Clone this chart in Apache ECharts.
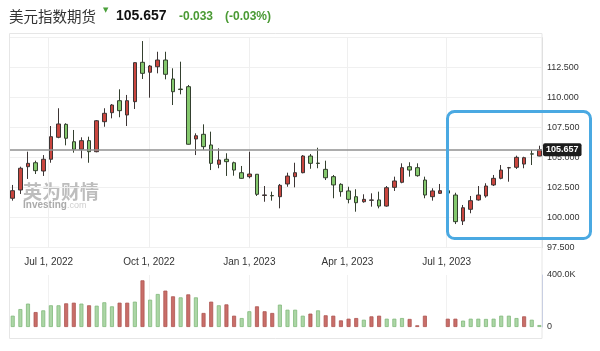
<!DOCTYPE html>
<html><head><meta charset="utf-8">
<script src="https://cdn.jsdelivr.net/npm/echarts/dist/echarts.min.js"></script>
<style>html,body{margin:0;padding:0;background:#fff}#c{width:600px;height:351px}</style>
</head><body><div id="c"></div>
<script>
// ---------- data ----------
const titleName = '美元指数期货';
const lastPrice = '105.657';
const changeAbs = '-0.033';
const changePct = '(-0.03%)';

const weeks = ['2022-05-29','2022-06-05','2022-06-12','2022-06-19','2022-06-26','2022-07-03','2022-07-10','2022-07-17','2022-07-24','2022-07-31',
'2022-08-07','2022-08-14','2022-08-21','2022-08-28','2022-09-04','2022-09-11','2022-09-18','2022-09-25','2022-10-02','2022-10-09',
'2022-10-16','2022-10-23','2022-10-30','2022-11-06','2022-11-13','2022-11-20','2022-11-27','2022-12-04','2022-12-11','2022-12-18',
'2022-12-25','2023-01-01','2023-01-08','2023-01-15','2023-01-22','2023-01-29','2023-02-05','2023-02-12','2023-02-19','2023-02-26',
'2023-03-05','2023-03-12','2023-03-19','2023-03-26','2023-04-02','2023-04-09','2023-04-16','2023-04-23','2023-04-30','2023-05-07',
'2023-05-14','2023-05-21','2023-05-28','2023-06-04','2023-06-11','2023-06-18','2023-06-25','2023-07-02','2023-07-09','2023-07-16',
'2023-07-23','2023-07-30','2023-08-06','2023-08-13','2023-08-20','2023-08-27','2023-09-03','2023-09-10','2023-09-17','2023-09-24'];

const open = [101.62,102.31,104.25,104.58,103.89,104.87,106.7,107.78,106.33,105.7,
106.42,105.5,108.0,108.75,109.75,108.56,109.67,112.95,112.12,112.58,
113.14,111.56,110.72,110.92,106.56,106.95,106.06,104.45,104.87,104.58,
103.75,103.42,103.62,101.85,101.85,101.75,102.81,103.42,103.75,105.14,
104.55,104.03,103.42,102.78,102.23,101.75,101.33,101.45,101.48,100.97,
102.53,102.95,104.25,104.17,103.14,101.75,102.03,102.25,101.89,99.72,
100.7,101.48,101.81,102.73,103.28,104.15,104.2,104.47,105.32,105.14];

const close = [102.25,104.12,104.53,103.92,104.87,106.75,107.81,106.62,105.7,106.42,
105.5,108.08,108.7,109.39,108.92,109.75,112.92,112.03,112.64,113.14,
111.95,110.5,110.68,106.12,106.83,105.92,104.53,104.81,104.67,103.97,
103.28,103.64,101.95,101.9,101.82,102.7,103.47,103.75,105.14,104.53,
104.52,103.33,102.73,102.17,101.53,101.25,101.53,101.48,100.97,102.5,
103.06,104.17,103.97,103.5,101.89,102.23,102.25,102.05,99.67,100.83,
101.42,101.89,102.64,103.28,103.97,104.17,105.03,105.0,105.3,105.657];

const low = [101.42,101.98,103.23,103.64,103.48,104.58,106.62,106.03,105.42,104.95,
104.58,105.45,107.58,108.28,108.37,107.64,109.06,111.56,110.0,112.03,
111.53,109.39,110.28,106.1,105.22,105.64,103.97,104.12,103.48,103.5,
103.25,103.28,101.81,101.33,101.42,100.78,102.58,102.53,103.7,104.08,
104.12,103.14,101.62,101.75,101.2,100.5,101.25,100.92,100.78,100.92,
102.23,102.87,103.42,103.42,101.62,101.42,101.98,101.98,99.47,99.39,
100.37,101.42,101.67,102.64,103.2,103.0,104.06,104.12,104.39,105.12];

const high = [102.73,104.25,105.5,104.75,105.22,107.64,109.12,107.87,107.31,106.7,
106.75,108.14,109.12,109.47,110.7,110.23,112.95,114.72,112.72,113.83,
113.83,112.45,113.0,111.06,107.03,107.78,107.17,105.78,105.37,104.67,
104.31,105.5,103.64,102.64,102.17,102.81,103.75,104.58,105.22,105.31,
105.83,104.75,103.56,102.87,102.58,102.37,101.95,102.03,102.17,102.64,
103.42,104.53,104.62,104.53,103.42,102.45,102.81,102.64,102.08,101.06,
101.81,102.64,102.87,103.56,104.39,104.23,105.17,105.08,105.64,106.0];

const volume = [87000,138000,180000,115000,128000,167000,167000,182000,187000,180000,
167000,164000,190000,159000,187000,187000,195000,359000,210000,254000,
280000,236000,228000,251000,228000,108000,195000,167000,174000,87000,
69000,121000,159000,121000,108000,172000,133000,133000,87000,103000,
128000,90000,87000,51000,64000,69000,56000,82000,87000,64000,
64000,69000,62000,13000,87000,null,null,64000,64000,49000,
64000,64000,62000,64000,87000,87000,69000,82000,56000,15000];

const volumeUp = [0,0,0,1,0,0,0,1,1,0,
1,0,0,0,1,1,0,1,0,0,
1,1,0,1,0,1,1,0,1,1,
0,0,1,1,1,0,0,0,0,1,
0,1,1,1,1,1,0,1,1,0,
0,0,1,1,1,0,0,1,1,0,
0,0,0,0,0,0,0,1,0,0];

const dateTicks = ['2022-07-01','2022-10-01','2023-01-01','2023-04-01','2023-07-01'];
const xRange = ['2022-05-26T12:00','2023-09-26T09:36'];
const priceRange = [97.5, 115];
const priceStep = 2.5;
const volumeRange = [0, 400000];

// ---------- helpers ----------
const MONTHS = ['Jan','Feb','Mar','Apr','May','Jun','Jul','Aug','Sep','Oct','Nov','Dec'];
function ts(s) {
  const [d, t] = s.split('T');
  const [y, m, dd] = d.split('-').map(Number);
  let hh = 0, mm = 0;
  if (t) { [hh, mm] = t.split(':').map(Number); }
  return Date.UTC(y, m - 1, dd, hh, mm);
}
function fmtDate(v) {
  const d = new Date(v);
  return MONTHS[d.getUTCMonth()] + ' ' + d.getUTCDate() + ', ' + d.getUTCFullYear();
}

const tickTs = dateTicks.map(ts);
const lastClose = close[close.length - 1];
const candleData = weeks.map((w, i) => [ts(w), open[i], close[i], low[i], high[i]]);
const volData = [];
weeks.forEach((w, i) => {
  if (volume[i] == null) return;
  const up = volumeUp[i] === 1;
  volData.push({
    value: [ts(w), volume[i]],
    itemStyle: up ? { color: '#c96e69', borderColor: '#ad5652', borderWidth: 0.8 }
                  : { color: '#acd6a6', borderColor: '#82b97b', borderWidth: 0.8 }
  });
});

const FONT = '"Liberation Sans", Arial, sans-serif';
const chart = echarts.init(document.getElementById('c'), null, { renderer: 'canvas' });

chart.setOption({
  animation: false,
  backgroundColor: '#fff',
  textStyle: { fontFamily: FONT },
  grid: [
    { left: 10, right: 58, top: 37.7, height: 210, outerBoundsMode: 'none', containLabel: false },
    { left: 10, right: 58, top: 275, height: 52, outerBoundsMode: 'none', containLabel: false }
  ],
  xAxis: [
    {
      type: 'value', gridIndex: 0, min: ts(xRange[0]), max: ts(xRange[1]), scale: true,
      axisLine: { show: false },
      axisTick: { show: false, customValues: tickTs },
      axisLabel: { customValues: tickTs, formatter: fmtDate, fontSize: 10, color: '#333', margin: 10, fontFamily: FONT },
      splitLine: { show: true, lineStyle: { color: '#efefef', width: 1 } }
    },
    {
      type: 'value', gridIndex: 1, min: ts(xRange[0]), max: ts(xRange[1]), scale: true,
      axisLine: { show: false },
      axisTick: { show: false, customValues: tickTs },
      axisLabel: { show: false, customValues: tickTs },
      splitLine: { show: true, lineStyle: { color: '#f1f1f1', width: 1 } }
    }
  ],
  yAxis: [
    {
      type: 'value', gridIndex: 0, position: 'right',
      min: priceRange[0], max: priceRange[1], interval: priceStep,
      axisLine: { show: true, lineStyle: { color: '#e0e0e0' } },
      axisTick: { show: false },
      axisLabel: { formatter: v => (v >= priceRange[1] ? '' : v.toFixed(3)), fontSize: 9, color: '#333', margin: 5, fontFamily: FONT },
      splitLine: { show: true, lineStyle: { color: '#f0f0f0' } }
    },
    {
      type: 'value', gridIndex: 1, position: 'right',
      min: volumeRange[0], max: volumeRange[1], interval: volumeRange[1],
      axisLine: { show: true, lineStyle: { color: '#c9cfe2' } },
      axisTick: { show: false },
      axisLabel: { formatter: v => (v === 0 ? '0' : (v / 1000).toFixed(1) + 'K'), fontSize: 9, color: '#333', margin: 5, fontFamily: FONT },
      splitLine: { show: false }
    }
  ],
  series: [
    {
      type: 'candlestick', xAxisIndex: 0, yAxisIndex: 0,
      data: candleData,
      barWidth: 4,
      itemStyle: {
        color: '#c9453e', color0: '#84c86d',
        borderColor: '#3d3535', borderColor0: '#34402f', borderWidth: 1
      },
      markLine: {
        silent: true, animation: false, precision: 3,
        symbol: ['none', 'none'],
        data: [{ yAxis: lastClose }],
        lineStyle: { color: '#909090', width: 1.5, type: 'solid' },
        label: {
          show: true, position: 'end', distance: 1,
          formatter: () => lastClose.toFixed(3),
          backgroundColor: '#1c1c1c', color: '#fff', fontWeight: 'bold', fontSize: 9,
          padding: [2, 3, 2, 3], borderRadius: 2, fontFamily: FONT
        }
      }
    },
    {
      type: 'bar', xAxisIndex: 1, yAxisIndex: 1,
      data: volData, barWidth: 4
    }
  ],
  graphic: [
    { type: 'rect', silent: true, z: -1,
      shape: { x: 9.5, y: 33.5, width: 532.5, height: 305 },
      style: { fill: 'none', stroke: '#e6e6e6', lineWidth: 1 } },
    { type: 'text', silent: true, x: 9, y: 16,
      style: { text: titleName, fontSize: 14.5, fontFamily: '"Noto Sans CJK SC"', fill: '#333', verticalAlign: 'middle' } },
    { type: 'text', silent: true, x: 103, y: 10,
      style: { text: '▼', fontSize: 7, fontFamily: '"DejaVu Sans"', fill: '#4aa03a', verticalAlign: 'middle' } },
    { type: 'text', silent: true, x: 116, y: 16.5,
      style: { text: lastPrice, fontSize: 14, fontWeight: 'bold', fontFamily: FONT, fill: '#111', verticalAlign: 'middle' } },
    { type: 'text', silent: true, x: 179, y: 17,
      style: { text: changeAbs, fontSize: 12, fontWeight: 'bold', fontFamily: FONT, fill: '#4a9a34', verticalAlign: 'middle' } },
    { type: 'text', silent: true, x: 225, y: 17,
      style: { text: changePct, fontSize: 12, fontWeight: 'bold', fontFamily: FONT, fill: '#4a9a34', verticalAlign: 'middle' } },
    { type: 'text', silent: true, x: 23, y: 192, z: -1,
      style: { text: '英为财情', fontSize: 19, fontWeight: 'bold', fontFamily: '"Noto Sans CJK SC"', fill: '#bdbdbd', verticalAlign: 'middle' } },
    { type: 'text', silent: true, x: 23, y: 205.5, z: -1,
      style: { text: '{a|Investing}{b|.com}', verticalAlign: 'middle',
        rich: { a: { fontSize: 10, fontWeight: 'bold', fontFamily: FONT, fill: '#aaaaaa', color: '#aaaaaa' },
                b: { fontSize: 9, fontFamily: FONT, fill: '#cfcfcf', color: '#cfcfcf' } } } },
    { type: 'rect', silent: true, z: 100,
      shape: { x: 447.5, y: 111.5, width: 143, height: 127, r: 7 },
      style: { fill: 'none', stroke: '#4aa9e2', lineWidth: 3 } }
  ]
});
</script>
</body></html>
